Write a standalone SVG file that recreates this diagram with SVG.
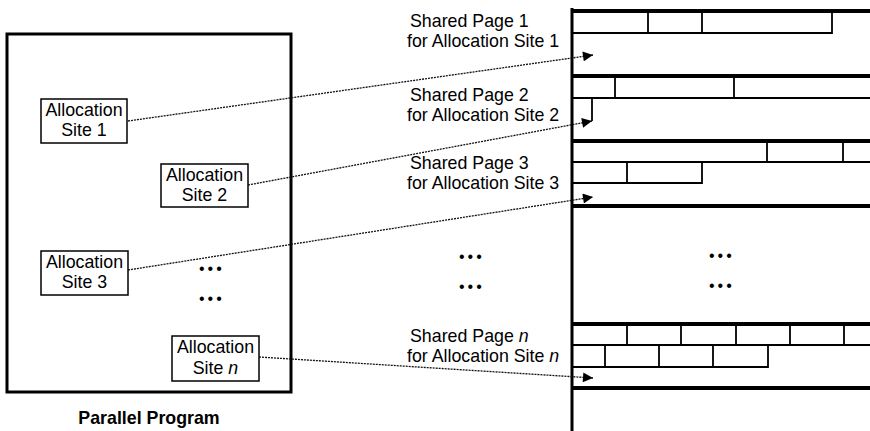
<svg xmlns="http://www.w3.org/2000/svg" width="870" height="431" viewBox="0 0 870 431">
<style>
.lbl{font-family:"Liberation Sans",Arial,sans-serif;font-size:17.8px;fill:#000}
.box{fill:#fff;stroke:#000;stroke-width:1.5}
.thick{stroke:#000;stroke-width:4;fill:none}
.row{stroke:#000;stroke-width:1.8;fill:none}
.conn{stroke:#111;stroke-width:1.3;stroke-dasharray:2 1;fill:none}
.dots{font-family:"Liberation Sans",Arial,sans-serif;font-size:16px;letter-spacing:3px;fill:#000}
</style>
<defs>
<marker id="ah" viewBox="0 0 10 10" refX="10" refY="5" markerWidth="12" markerHeight="10" markerUnits="userSpaceOnUse" orient="auto">
<path d="M0,0 L10,5 L0,10 z" fill="#000"/>
</marker>
</defs>
<rect width="870" height="431" fill="#fff"/>

<g id="program">
<rect x="7" y="34" width="284" height="358" fill="none" stroke="#000" stroke-width="3"/>
<text class="lbl" x="149" y="424" text-anchor="middle" font-weight="bold" font-size="21">Parallel Program</text>
<text class="dots" x="199" y="274">•••</text>
<text class="dots" x="199" y="304">•••</text>
</g>

<g id="site1">
<rect class="box" x="41" y="99" width="86" height="44"/>
<text class="lbl" x="84" y="116">
<tspan x="84" text-anchor="middle">Allocation</tspan></text>
<text class="lbl" x="84" y="136" text-anchor="middle">Site 1</text>
</g>
<g id="site2">
<rect class="box" x="161" y="164" width="87" height="43"/>
<text class="lbl" x="204.5" y="181" text-anchor="middle">Allocation</text>
<text class="lbl" x="204.5" y="201" text-anchor="middle">Site 2</text>
</g>
<g id="site3">
<rect class="box" x="41" y="251" width="87" height="44"/>
<text class="lbl" x="84.5" y="268" text-anchor="middle">Allocation</text>
<text class="lbl" x="84.5" y="288" text-anchor="middle">Site 3</text>
</g>
<g id="siten">
<rect class="box" x="172" y="336" width="87" height="45"/>
<text class="lbl" x="215.5" y="353" text-anchor="middle">Allocation</text>
<text class="lbl" x="215.5" y="374" text-anchor="middle">Site <tspan font-style="italic">n</tspan></text>
</g>

<g id="memory">
<line x1="572" y1="8" x2="572" y2="431" stroke="#000" stroke-width="3"/>
<text class="dots" x="459" y="262">•••</text>
<text class="dots" x="459" y="292">•••</text>
<text class="dots" x="709" y="261">•••</text>
<text class="dots" x="709" y="291">•••</text>
</g>

<g id="page1">
<line class="thick" x1="572" y1="11" x2="870" y2="11"/>
<path class="row" d="M572,33 H832 V11 M648,11 V33 M702,11 V33"/>
<text class="lbl" x="410" y="27">Shared Page 1</text>
<text class="lbl" x="407" y="47">for Allocation Site 1</text>
</g>
<g id="page2">
<line class="thick" x1="572" y1="76" x2="870" y2="76"/>
<path class="row" d="M572,98 H870 M615,76 V98 M734,76 V98 M592,98 V121"/>
<text class="lbl" x="410" y="101">Shared Page 2</text>
<text class="lbl" x="407" y="121">for Allocation Site 2</text>
</g>
<g id="page3">
<line class="thick" x1="572" y1="141" x2="870" y2="141"/>
<path class="row" d="M572,162 H870 M767,141 V162 M843,141 V162 M572,183 H702 V162 M627,162 V183"/>
<line class="thick" x1="572" y1="206" x2="870" y2="206"/>
<text class="lbl" x="410" y="169">Shared Page 3</text>
<text class="lbl" x="407" y="189">for Allocation Site 3</text>
</g>
<g id="pagen">
<line class="thick" x1="572" y1="324" x2="870" y2="324"/>
<path class="row" d="M572,345 H870 M627,324 V345 M681,324 V345 M736,324 V345 M790,324 V345 M844,324 V345 M572,367 H768 V345 M605,345 V367 M659,345 V367 M713,345 V367"/>
<line class="thick" x1="572" y1="388" x2="870" y2="388"/>
<text class="lbl" x="410" y="342">Shared Page <tspan font-style="italic">n</tspan></text>
<text class="lbl" x="407" y="362">for Allocation Site <tspan font-style="italic">n</tspan></text>
</g>

<g id="connectors">
<line class="conn" x1="128" y1="121" x2="593" y2="55" marker-end="url(#ah)"/>
<line class="conn" x1="248" y1="185" x2="592" y2="121" marker-end="url(#ah)"/>
<line class="conn" x1="128" y1="270" x2="593" y2="197" marker-end="url(#ah)"/>
<line class="conn" x1="259" y1="357" x2="593" y2="378" marker-end="url(#ah)"/>
</g>
</svg>
